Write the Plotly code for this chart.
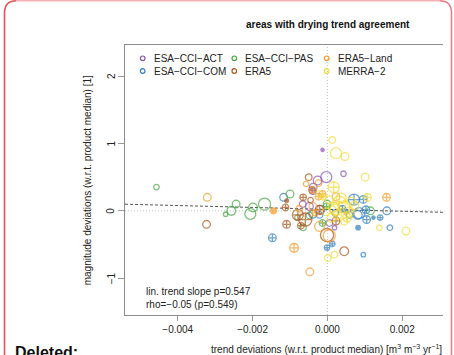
import plotly.graph_objects as go

# ---------------------------------------------------------------- data
# trend deviation [m3 m-3 yr-1], magnitude deviation [1], point size, marker kind
act_x = [-0.00013, -0.00003, -0.00026, -0.00038, 0.00043, -0.00066, -0.00048, -0.00019, 0.00019, 0.00005, -0.00039]
act_y = [0.905, 0.50, 0.45, 0.35, 0.55, 0.10, 0.065, 0.015, -0.25, -0.18, 0.29]
act_s = [3, 10, 8, 7, 5, 6, 7, 8, 4, 6, 6]
act_k = ["dot", "open", "open", "open", "open", "open", "open", "open", "open", "open", "open"]

com_x = [-0.00147, -0.00117, -0.00039, -0.00001, 0.00013, 0.00082, 0.00096, 0.00167, 0.00159, 0.00141, 0.00123,
         0.00105, 0.00071, 0.00096, 0.00081, 0.00059, 0.00050, -0.00021, 0.00103, 0.00085, 0.00021, 0.00040]
com_y = [-0.40, 0.20, -0.05, -0.545, -0.49, -0.25, -0.65, -0.25, 0.0, -0.10, -0.10,
         -0.13, 0.165, 0.17, -0.06, -0.06, -0.01, -0.06, 0.015, -0.035, -0.03, 0.03]
com_s = [7, 7, 7, 5, 5, 4, 4, 5, 7, 5, 3, 7, 10, 7, 8, 6, 4, 6, 7, 10, 6, 6]
com_k = ["cross", "open", "open", "cross", "cross", "dot", "open", "open", "open", "cross", "dot",
         "cross", "cross", "cross", "open", "open", "cross", "open", "cross", "open", "open", "cross"]

pas_x = [-0.00457, -0.00244, -0.00257, -0.00272, -0.00206, -0.00199, -0.00168, -0.00100, -0.00065, 0.00115,
         -0.00001, -0.00013, -0.00002, -0.00080, -0.00048]
pas_y = [0.353, 0.10, 0.0, -0.05, -0.045, 0.05, 0.10, 0.25, -0.245, 0.0, 0.10, -0.18, 0.065, -0.10, -0.07]
pas_s = [5, 7, 8, 4, 10, 8, 11, 7, 6, 7, 7, 6, 6, 5, 6]
pas_k = ["open"] * 11 + ["cross", "cross", "open", "open"]

era5_x = [-0.00323, -0.00109, -0.00112, -0.00109, -0.00079, -0.00059, -0.00071, -0.00065, -0.00050, 0.00045,
          -0.00001, 0.00023, -0.00021, -0.00041, -0.00045]
era5_y = [-0.20, 0.15, 0.05, -0.20, -0.06, -0.13, -0.22, 0.20, 0.50, -0.60, -0.36, -0.15, 0.015, 0.31, 0.16]
era5_s = [7, 3.5, 6, 7, 10, 12, 6, 6, 6, 8, 12, 7, 8, 6, 5]
era5_k = ["open", "dot", "cross", "cross", "cross", "cross", "cross", "cross", "open", "open",
          "open", "cross", "cross", "cross", "open"]

land_x = [-0.00321, -0.00144, -0.00089, -0.00047, 0.00158, -0.00057, -0.00039, -0.00024, -0.00013, -0.00021,
          -0.00039, 0.00023, -0.00032, 0.00005, -0.00075, -0.00024]
land_y = [0.20, 0.0, -0.55, -0.905, 0.20, 0.40, 0.31, 0.41, 0.25, -0.23, 0.065, 0.21, -0.03, -0.37, 0.03, 0.21]
land_s = [7, 5.5, 8, 7, 7, 5, 6, 6, 6, 9, 7, 7, 6, 11, 6, 6]
land_k = ["open", "dot", "cross", "open", "cross", "open", "open", "open", "cross", "open",
          "open", "open", "cross", "open", "open", "cross"]

merra_x = [0.00013, 0.00023, 0.00047, 0.00101, 0.00017, -0.00021, 0.00107, 0.00139, 0.00210, 0.00019, 0.00001,
           0.00032, 0.00045, 0.00021, 0.00059, 0.00011, 0.00072, 0.00037, 0.00053, 0.00005, 0.00027, -0.00011,
           0.00064, 0.00016, -0.00003, 0.00045]
merra_y = [1.05, 0.855, 0.805, 0.50, 0.35, 0.25, 0.20, -0.25, -0.30, -0.65, -0.70,
           0.12, 0.06, 0.015, -0.015, -0.10, 0.075, 0.19, -0.10, 0.165, -0.06, 0.21,
           0.135, 0.06, -0.015, -0.16]
merra_s = [6, 10, 7, 7, 10, 6, 7, 5, 7, 6, 6, 12, 11, 10, 9, 8, 8, 9, 8, 7, 8, 6, 8, 9, 7, 6]
merra_k = ["open", "open", "open", "open", "cross", "open", "cross", "open", "open", "open", "open",
           "cross", "open", "open", "cross", "open", "open", "open", "cross", "open", "cross", "cross",
           "open", "open", "open", "open"]

# linear trend of magnitude vs trend deviations
trend_slope = -14.2
trend_intercept = 0.022

x_ticks = [-0.004, -0.002, 0.0, 0.002]
y_ticks = [-1, 0, 1, 2]
y_tick_text = ["−1", "0", "1", "2"]
x_range = [-0.00541, 0.00309]
y_range = [-1.545, 2.46]

products = [
    ("ESA−CCI−ACT", "#8856B5", act_x, act_y, act_s, act_k),
    ("ESA−CCI−COM", "#2F7EBF", com_x, com_y, com_s, com_k),
    ("ESA−CCI−PAS", "#46A843", pas_x, pas_y, pas_s, pas_k),
    ("ERA5", "#A9541A", era5_x, era5_y, era5_s, era5_k),
    ("ERA5−Land", "#F39A2B", land_x, land_y, land_s, land_k),
    ("MERRA−2", "#F2DA35", merra_x, merra_y, merra_s, merra_k),
]
symbol_of = {"open": "circle-open", "cross": "circle-cross-open", "dot": "circle"}
SIZE_SCALE = 1.1

# ---------------------------------------------------------------- layout geometry
W, H = 454, 355
ML, MR, MT, MB = 125, 11, 45, 40
PW, PH = W - ML - MR, H - MT - MB
FONT = "Liberation Sans, Arial, Helvetica, sans-serif"


def px(x):
    return (x - ML) / PW


def py(y):
    return (H - MB - y) / PH


fig = go.Figure()

# reference lines through zero
fig.add_shape(type="line", xref="x", yref="paper", x0=0, x1=0, y0=0, y1=1,
              line=dict(color="#C4C4C4", width=1, dash="1px,2px"), layer="below")
fig.add_shape(type="line", xref="paper", yref="y", x0=0, x1=1, y0=0, y1=0,
              line=dict(color="#C4C4C4", width=1, dash="1px,2px"), layer="below")

# trend line
fig.add_trace(go.Scatter(
    x=x_range, y=[trend_intercept + trend_slope * v for v in x_range],
    mode="lines", line=dict(color="#555555", width=1, dash="3px,2px"),
    showlegend=False, hoverinfo="skip"))

for name, col, xs, ys, ss, ks in products:
    fig.add_trace(go.Scatter(
        x=xs, y=ys, mode="markers", name=name, showlegend=False,
        marker=dict(symbol=[symbol_of[k] for k in ks], size=[s * SIZE_SCALE for s in ss], color=col,
                    line=dict(color=col, width=1.3)),
    ))

# legend drawn as three columns by two rows
leg_cols = [142.7, 234.3, 326.7]
leg_rows = [58.3, 71.0]
leg_order = [(0, 0, 0), (2, 1, 0), (4, 2, 0), (1, 0, 1), (3, 1, 1), (5, 2, 1)]
annotations = []
shapes = []
for idx, c, r in leg_order:
    name, col = products[idx][0], products[idx][1]
    cx, cy = leg_cols[c], leg_rows[r]
    shapes.append(dict(type="circle", xref="paper", yref="paper", xsizemode="pixel", ysizemode="pixel",
                       xanchor=px(cx), yanchor=py(cy), x0=-2.3, x1=2.3, y0=-2.3, y1=2.3,
                       line=dict(color=col, width=1.2)))
    annotations.append(dict(x=px(cx + 9), y=py(cy), xref="paper", yref="paper", text=name,
                            showarrow=False, xanchor="left", yanchor="middle",
                            font=dict(size=10, color="#222222")))

# y tick labels, written parallel to the axis
for v, t in zip(y_ticks, y_tick_text):
    annotations.append(dict(x=px(111), y=v, xref="paper", yref="y", text=t, textangle=-90,
                            showarrow=False, xanchor="center", yanchor="middle",
                            font=dict(size=10, color="#222222")))

# statistics text
annotations.append(dict(x=px(144), y=py(291), xref="paper", yref="paper", text="lin. trend slope p=0.547",
                        showarrow=False, xanchor="left", yanchor="middle", font=dict(size=10, color="#222222")))
annotations.append(dict(x=px(144), y=py(304), xref="paper", yref="paper", text="rho=−0.05 (p=0.549)",
                        showarrow=False, xanchor="left", yanchor="middle", font=dict(size=10, color="#222222")))

# title and axis titles
annotations.append(dict(x=px(328), y=py(25), xref="paper", yref="paper",
                        text="<b>areas with drying trend agreement</b>",
                        showarrow=False, xanchor="center", yanchor="middle", font=dict(size=10, color="#111111")))
annotations.append(dict(x=px(443.5), y=py(349), xref="paper", yref="paper",
                        text="trend deviations (w.r.t. product median) [m<sup>3</sup> m<sup>−3</sup> yr<sup>−1</sup>]",
                        showarrow=False, xanchor="right", yanchor="middle", font=dict(size=10, color="#222222")))
annotations.append(dict(x=px(87.3), y=py(180), xref="paper", yref="paper",
                        text="magnitude deviations (w.r.t. product median) [1]", textangle=-90,
                        showarrow=False, xanchor="center", yanchor="middle", font=dict(size=10, color="#222222")))

# page label below the frame
annotations.append(dict(x=px(13), y=py(352), xref="paper", yref="paper", text="<b>Deleted:</b>",
                        showarrow=False, xanchor="left", yanchor="middle", font=dict(size=16, color="#111111")))


def pt(x, y):
    return f"{px(x):.5f},{py(y):.5f}"


# rounded comment frame around the figure
shapes.append(dict(type="path", xref="paper", yref="paper",
                   path=f"M{pt(4.5, 360)} L{pt(4.5, 13)} Q{pt(4.5, 0.8)} {pt(16.5, 0.8)}",
                   line=dict(color="#E4515A", width=1.6)))
shapes.append(dict(type="path", xref="paper", yref="paper",
                   path=f"M{pt(16.5, 0.8)} L{pt(439.5, 0.8)}",
                   line=dict(color="#F3B2B7", width=1.5)))
shapes.append(dict(type="path", xref="paper", yref="paper",
                   path=f"M{pt(439.5, 0.8)} Q{pt(451.5, 0.8)} {pt(451.5, 13)} L{pt(451.5, 360)}",
                   line=dict(color="#EC7C83", width=1.5)))

fig.update_layout(
    width=W, height=H, autosize=False,
    margin=dict(l=ML, r=MR, t=MT, b=MB, pad=0),
    paper_bgcolor="white", plot_bgcolor="white",
    font=dict(family=FONT, size=10, color="#222222"),
    showlegend=False,
    annotations=annotations,
    shapes=fig.layout.shapes + tuple(shapes),
    xaxis=dict(range=x_range, tickvals=x_ticks, tickformat=".3f", showgrid=False, zeroline=False,
               showline=True, linecolor="#8C8C8C", linewidth=1, mirror=True,
               ticks="outside", ticklen=5, tickcolor="#9A9A9A", tickfont=dict(size=10, color="#222222")),
    yaxis=dict(range=y_range, tickvals=y_ticks, showgrid=False, zeroline=False, showticklabels=False,
               showline=True, linecolor="#8C8C8C", linewidth=1, mirror=False,
               ticks="outside", ticklen=6, tickcolor="#9A9A9A"),
)

fig.write_html("out.html")
